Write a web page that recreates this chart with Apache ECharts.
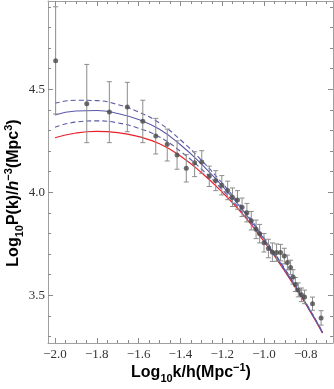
<!DOCTYPE html>
<html>
<head>
<meta charset="utf-8">
<title>P(k)</title>
<script src="https://cdn.jsdelivr.net/npm/echarts@6/dist/echarts.min.js"></script>
<style>
  html, body { margin: 0; padding: 0; background: #fff; }
  #main { width: 334px; height: 389px; }
</style>
</head>
<body>
<div id="main"></div>
<script>
// measured points: log10 k, log10 P, error bar ends
var kData = [-1.997, -1.848, -1.740, -1.654, -1.580, -1.518, -1.463, -1.416, -1.372, -1.332,
             -1.298, -1.262, -1.231, -1.202, -1.174, -1.151, -1.127, -1.105, -1.082, -1.061,
             -1.038, -1.021, -1.000, -0.979, -0.960, -0.940, -0.921, -0.903, -0.888, -0.873,
             -0.861, -0.850, -0.836, -0.821, -0.806, -0.768, -0.727];
var pData = [4.639, 4.430, 4.390, 4.414, 4.345, 4.273, 4.233, 4.181, 4.117, 4.143,
             4.147, 4.078, 4.057, 4.034, 4.009, 3.976, 3.963, 3.927, 3.901, 3.862,
             3.820, 3.799, 3.755, 3.727, 3.709, 3.707, 3.707, 3.690, 3.659, 3.635,
             3.589, 3.552, 3.526, 3.502, 3.492, 3.459, 3.390];
var errHigh = [4.901, 4.621, 4.537, 4.534, 4.447, 4.359, 4.307, 4.250, 4.183, 4.197,
               4.202, 4.127, 4.105, 4.081, 4.054, 4.021, 4.008, 3.972, 3.946, 3.907,
               3.865, 3.844, 3.800, 3.772, 3.754, 3.749, 3.747, 3.728, 3.695, 3.670,
               3.624, 3.586, 3.560, 3.535, 3.525, 3.491, 3.425];
var errLow = [4.380, 4.241, 4.241, 4.294, 4.241, 4.186, 4.152, 4.112, 4.050, 4.076,
              4.092, 4.028, 4.008, 3.987, 3.964, 3.931, 3.918, 3.882, 3.856, 3.817,
              3.775, 3.754, 3.710, 3.682, 3.664, 3.665, 3.667, 3.652, 3.623, 3.600,
              3.554, 3.518, 3.492, 3.469, 3.459, 3.427, 3.355];

// model curves
var kModel = [-2.0, -1.9, -1.8, -1.7, -1.6, -1.5, -1.4, -1.3, -1.2, -1.1, -1.0, -0.9, -0.8, -0.72];
var pRed   = [4.265, 4.288, 4.296, 4.290, 4.270, 4.236, 4.176, 4.096, 4.001, 3.891, 3.761, 3.616, 3.456, 3.316];
var pBlue  = [4.375, 4.395, 4.397, 4.383, 4.353, 4.306, 4.231, 4.138, 4.031, 3.911, 3.773, 3.624, 3.461, 3.320];
var pBlueUp = [4.432, 4.447, 4.445, 4.426, 4.390, 4.336, 4.255, 4.156, 4.044, 3.920, 3.779, 3.628, 3.464, 3.322];
var pBlueDn = [4.316, 4.341, 4.347, 4.337, 4.311, 4.269, 4.199, 4.113, 4.013, 3.899, 3.765, 3.619, 3.458, 3.318];

// ticks
var xMajor = [-2.0, -1.8, -1.6, -1.4, -1.2, -1.0, -0.8];
var yMajor = [3.5, 4.0, 4.5];

var xMin = -2.0335, xMax = -0.670;
var yMin = 3.268, yMax = 4.929;

function minorList(lo, hi, step) {
  var out = [];
  for (var v = Math.ceil(lo / step) * step; v <= hi + 1e-9; v += step) {
    out.push(Math.round(v * 1000) / 1000);
  }
  return out;
}
var xMinor = minorList(xMin, xMax, 0.05);
var yMinor = minorList(yMin, yMax, 0.1);

function pair(a, b) {
  var r = [];
  for (var i = 0; i < a.length; i++) r.push([a[i], b[i]]);
  return r;
}
var errData = [];
for (var i = 0; i < kData.length; i++) errData.push([kData[i], errLow[i], errHigh[i]]);

var frameColor = '#a0a0a0';
var tickColor = '#8a8a8a';
var labelFont = {color: '#333', fontFamily: '"Liberation Serif", "DejaVu Serif", serif', fontSize: 13};

function fmt(v) {
  return v.toFixed(1).replace('-', '\u2212');
}

function makeX(pos, major, showLine) {
  return {
    type: 'value', position: pos, min: xMin, max: xMax,
    axisLine: {show: showLine, onZero: false, lineStyle: {color: frameColor, width: 1}},
    axisTick: {show: true, inside: true, length: major ? 5 : 3,
               customValues: major ? xMajor : xMinor,
               lineStyle: {color: tickColor}},
    axisLabel: (major && pos === 'bottom') ?
      Object.assign({show: true, margin: 5, customValues: xMajor, formatter: fmt}, labelFont) :
      {show: false},
    splitLine: {show: false}
  };
}
function makeY(pos, major, showLine) {
  return {
    type: 'value', position: pos, min: yMin, max: yMax,
    axisLine: {show: showLine, onZero: false, lineStyle: {color: frameColor, width: 1}},
    axisTick: {show: true, inside: true, length: major ? 5 : 3,
               customValues: major ? yMajor : yMinor,
               lineStyle: {color: tickColor}},
    axisLabel: (major && pos === 'left') ?
      Object.assign({show: true, margin: 3, customValues: yMajor, formatter: fmt}, labelFont) :
      {show: false},
    splitLine: {show: false}
  };
}

var titleRich = {
  a: {fontSize: 16, fontWeight: 'bold', fontFamily: 'Liberation Sans', color: '#111', lineHeight: 22},
  i: {fontSize: 16, fontWeight: 'bold', fontStyle: 'italic', fontFamily: 'Liberation Sans', color: '#111', lineHeight: 22},
  s: {fontSize: 11, fontWeight: 'bold', fontFamily: 'Liberation Sans', color: '#111', verticalAlign: 'bottom', lineHeight: 11},
  u: {fontSize: 11, fontWeight: 'bold', fontFamily: 'Liberation Sans', color: '#111', verticalAlign: 'top', lineHeight: 11}
};

var chart = echarts.init(document.getElementById('main'));
chart.setOption({
  animation: false,
  backgroundColor: '#fff',
  grid: {left: 48, right: 1, top: 1, bottom: 46, containLabel: false, outerBoundsMode: 'none'},
  xAxis: [makeX('bottom', true, true), makeX('bottom', false, false),
          makeX('top', true, true), makeX('top', false, false)],
  yAxis: [makeY('left', true, true), makeY('left', false, false),
          makeY('right', true, true), makeY('right', false, false)],
  graphic: [
    {type: 'text', x: 191, y: 373,
     style: {text: '{a|Log}{s|10}{a|k/h(Mpc}{u|\u22121}{a|)}', rich: titleRich, align: 'center', verticalAlign: 'middle'}},
    {type: 'text', x: 14, y: 193, rotation: Math.PI / 2,
     style: {text: '{a|Log}{s|10}{a|P(k)/}{i|h}{u|\u22123}{a|(Mpc}{u|3}{a|)}', rich: titleRich, align: 'center', verticalAlign: 'middle'}}
  ],
  series: [
    {type: 'line', data: pair(kModel, pRed), showSymbol: false, smooth: true,
     lineStyle: {color: '#e8202a', width: 1.2}, z: 2},
    {type: 'line', data: pair(kModel, pBlue), showSymbol: false, smooth: true,
     lineStyle: {color: '#5a5aa8', width: 1.1}, z: 3},
    {type: 'line', data: pair(kModel, pBlueUp), showSymbol: false, smooth: true,
     lineStyle: {color: '#5a5aa8', width: 1.1, type: [5, 3]}, z: 3},
    {type: 'line', data: pair(kModel, pBlueDn), showSymbol: false, smooth: true,
     lineStyle: {color: '#5a5aa8', width: 1.1, type: [5, 3]}, z: 3},
    {type: 'custom', data: errData, z: 4,
     renderItem: function (params, api) {
       var x = api.value(0);
       var lo = api.coord([x, api.value(1)]);
       var hi = api.coord([x, api.value(2)]);
       var w = 2.5;
       var st = {stroke: '#8c8c8c', lineWidth: 1};
       return {type: 'group', children: [
         {type: 'line', shape: {x1: lo[0], y1: lo[1], x2: hi[0], y2: hi[1]}, style: st},
         {type: 'line', shape: {x1: hi[0] - w, y1: hi[1], x2: hi[0] + w, y2: hi[1]}, style: st},
         {type: 'line', shape: {x1: lo[0] - w, y1: lo[1], x2: lo[0] + w, y2: lo[1]}, style: st}
       ]};
     }},
    {type: 'scatter', data: pair(kData, pData), symbol: 'circle', symbolSize: 5,
     itemStyle: {color: '#4a4a4a'}, z: 5}
  ]
});
</script>
</body>
</html>
